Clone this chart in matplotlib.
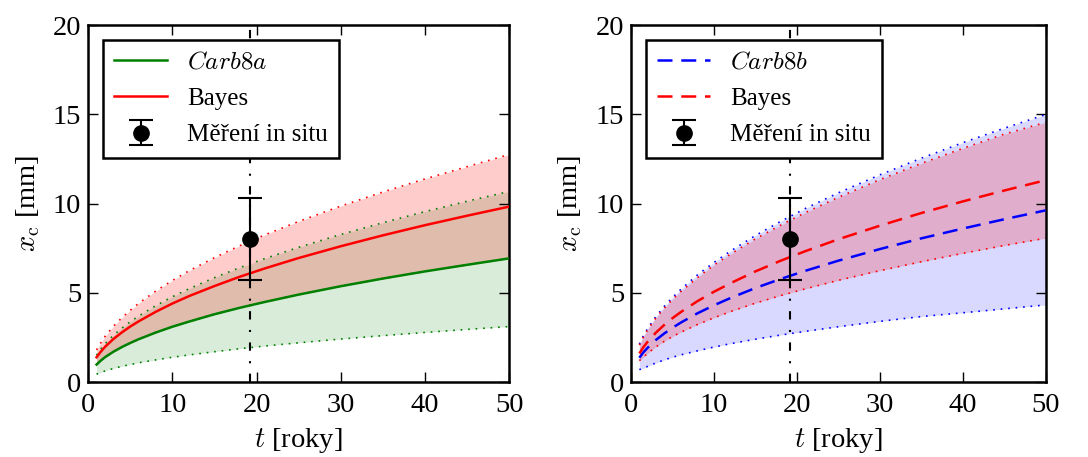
import matplotlib
matplotlib.use("Agg")
import matplotlib.pyplot as plt
import numpy as np

plt.rcParams['font.family'] = 'serif'
plt.rcParams['font.serif'] = ['Liberation Serif', 'DejaVu Serif']
plt.rcParams['mathtext.fontset'] = 'cm'
plt.rcParams['font.size'] = 20

# time axis [years]
t = [1, 1.5, 2, 3, 4, 5, 6, 8, 10, 12, 15, 18, 21, 25, 30, 35, 40, 45, 50]

# left panel: Carb8a model and Bayes update (solid)
carb8a_mean = [0.98, 1.20, 1.39, 1.70, 1.96, 2.19, 2.40, 2.77, 3.10, 3.39, 3.80, 4.16, 4.49, 4.90, 5.37, 5.80, 6.20, 6.57, 6.93]
carb8a_hi = [1.51, 1.85, 2.14, 2.62, 3.02, 3.38, 3.70, 4.27, 4.78, 5.23, 5.85, 6.41, 6.92, 7.55, 8.27, 8.93, 9.55, 10.13, 10.68]
carb8a_lo = [0.44, 0.54, 0.62, 0.76, 0.88, 0.98, 1.08, 1.24, 1.39, 1.52, 1.70, 1.87, 2.02, 2.20, 2.41, 2.60, 2.78, 2.95, 3.11]
bayes_a_mean = [1.39, 1.70, 1.97, 2.41, 2.78, 3.11, 3.40, 3.93, 4.40, 4.82, 5.38, 5.90, 6.37, 6.95, 7.61, 8.22, 8.79, 9.32, 9.83]
bayes_a_hi = [1.80, 2.20, 2.55, 3.12, 3.60, 4.02, 4.41, 5.09, 5.69, 6.24, 6.97, 7.64, 8.25, 9.00, 9.86, 10.65, 11.38, 12.07, 12.75]
bayes_a_lo = [0.98, 1.20, 1.39, 1.70, 1.96, 2.19, 2.40, 2.77, 3.10, 3.39, 3.80, 4.16, 4.49, 4.90, 5.37, 5.80, 6.20, 6.57, 6.93]

# right panel: Carb8b model and Bayes update (dashed)
carb8b_mean = [1.36, 1.67, 1.92, 2.36, 2.72, 3.04, 3.33, 3.85, 4.30, 4.71, 5.27, 5.77, 6.23, 6.80, 7.45, 8.05, 8.60, 9.12, 9.62]
carb8b_hi = [2.12, 2.60, 3.00, 3.67, 4.24, 4.74, 5.19, 6.00, 6.70, 7.34, 8.21, 8.99, 9.72, 10.60, 11.61, 12.54, 13.41, 14.22, 14.99]
carb8b_lo = [0.70, 0.76, 0.88, 1.07, 1.24, 1.39, 1.52, 1.75, 1.96, 2.15, 2.40, 2.63, 2.84, 3.10, 3.40, 3.67, 3.88, 4.10, 4.32]
bayes_b_mean = [1.60, 1.96, 2.26, 2.77, 3.20, 3.58, 3.92, 4.53, 5.06, 5.54, 6.20, 6.79, 7.33, 8.00, 8.76, 9.47, 10.12, 10.73, 11.31]
bayes_b_hi = [2.07, 2.54, 2.93, 3.59, 4.14, 4.63, 5.07, 5.85, 6.55, 7.17, 8.02, 8.78, 9.49, 10.35, 11.34, 12.25, 13.09, 13.89, 14.55]
bayes_b_lo = [1.20, 1.40, 1.61, 1.97, 2.28, 2.55, 2.79, 3.22, 3.60, 3.95, 4.42, 4.84, 5.22, 5.70, 6.24, 6.74, 7.21, 7.65, 8.06]

# in situ measurement
t_meas = 19.2
x_meas = 8.0
x_err = 2.3

dotted = (0, (1, 3.5))


def band(ax, lo, hi, color, alpha):
    ax.fill_between(t, lo, hi, color=color, alpha=alpha, lw=0)
    ax.plot(t, lo, color=color, lw=1.2, ls=dotted)
    ax.plot(t, hi, color=color, lw=1.2, ls=dotted)


def finish(ax):
    ax.axvline(t_meas, color='k', lw=1.5, dashes=(4, 5, 1, 5), zorder=1)
    ax.errorbar([t_meas], [x_meas], yerr=[x_err], fmt='o', color='k', ms=11,
                capsize=8.5, elinewidth=1.5, capthick=1.5, label='Měření in situ', zorder=5)
    ax.set_xlim(0, 50)
    ax.set_ylim(0, 20)
    ax.set_xticks(np.arange(0, 51, 10))
    ax.set_yticks(np.arange(0, 21, 5))
    ax.tick_params(direction='in', top=True, right=True, length=7, width=1,
                   labelsize=20.5)
    ax.tick_params(axis='x', pad=8)
    ax.tick_params(axis='y', pad=5)
    for s in ax.spines.values():
        s.set_linewidth(1.8)
    ax.set_xlabel('$t$ [roky]', fontsize=20.5, labelpad=6)
    ax.set_ylabel(r'$x_\mathrm{c}$ [mm]', fontsize=20.5, labelpad=8)
    leg = ax.legend(loc='upper left', fancybox=False, framealpha=1, edgecolor='k',
                    fontsize=18, handlelength=2.1, handletextpad=0.8, labelspacing=0.55,
                    borderpad=0.45, borderaxespad=0.6, numpoints=1)
    leg.get_frame().set_linewidth(1.8)
    leg.set_zorder(10)


fig = plt.figure(figsize=(10.88, 4.57), dpi=100)
ax1 = fig.add_axes([0.081, 0.164, 0.387, 0.781])
ax2 = fig.add_axes([0.580, 0.164, 0.381, 0.781])

band(ax1, carb8a_lo, carb8a_hi, 'g', 0.15)
band(ax1, bayes_a_lo, bayes_a_hi, 'r', 0.2)
ax1.plot(t, carb8a_mean, color='g', lw=1.8, label='$Carb8a$', zorder=3)
ax1.plot(t, bayes_a_mean, color='r', lw=1.8, label='Bayes', zorder=3)
finish(ax1)

band(ax2, carb8b_lo, carb8b_hi, 'b', 0.15)
band(ax2, bayes_b_lo, bayes_b_hi, 'r', 0.2)
ax2.plot(t, carb8b_mean, color='b', lw=1.8, dashes=(6, 3.5), label='$Carb8b$', zorder=3)
ax2.plot(t, bayes_b_mean, color='r', lw=1.8, dashes=(6, 3.5), label='Bayes', zorder=3)
finish(ax2)

fig.savefig('out.png', dpi=100)
